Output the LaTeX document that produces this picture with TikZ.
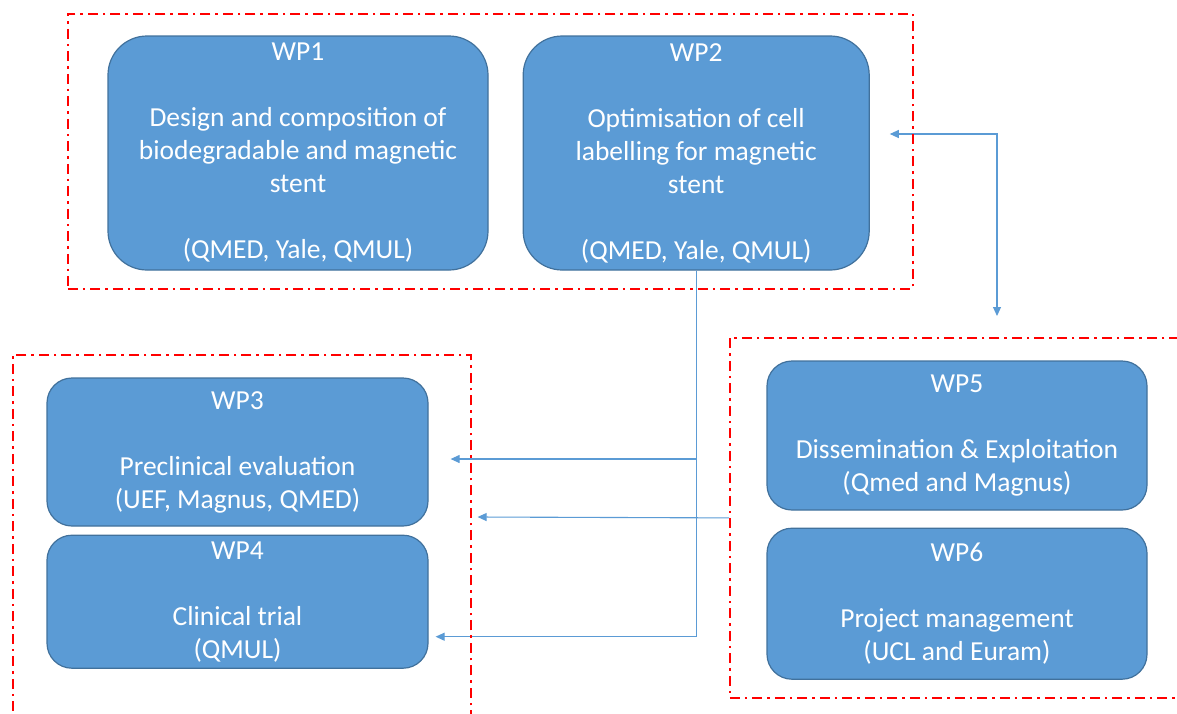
\documentclass[tikz,border=0pt]{standalone}
\usepackage{fontspec}
\setmainfont{Carlito}
\usetikzlibrary{arrows.meta,positioning,calc,backgrounds}
\definecolor{wpblue}{HTML}{5B9BD5}
\definecolor{wpedge}{HTML}{41719C}
\definecolor{framered}{HTML}{FF0000}

\begin{document}
\begin{tikzpicture}[x=1pt,y=-1pt,>={Triangle[length=9pt,width=8pt]},
        wp/.style={rectangle,rounded corners=#1,fill=wpblue,draw=wpedge,line width=1.2pt,
          text=white,align=center,inner sep=0pt,font=\fontsize{27.5}{33}\selectfont},
        wp/.default=25pt,
        group/.style={rectangle,draw=framered,line width=1.8pt,anchor=north west,inner sep=0pt,
          dash pattern=on 10pt off 5pt on 2.5pt off 5pt},
        link/.style={->,draw=wpblue,line width=1.1pt}]
        \useasboundingbox (0,0) rectangle (1177,713);
        % work packages
        \node[wp=39pt,minimum width=380pt,minimum height=234pt] (wp1) at (298,153)
          {WP1\\[33pt] Design and composition of\\ biodegradable and magnetic\\ stent\\[33pt] (QMED, Yale, QMUL)};
        \node[wp=39pt,minimum width=346pt,minimum height=234pt] (wp2) [right=34pt of wp1]
          {WP2\\[33pt] Optimisation of cell\\ labelling for magnetic\\ stent\\[33pt] (QMED, Yale, QMUL)};
        \node[wp,minimum width=381pt,minimum height=148pt] (wp3) at (237.5,452)
          {WP3\\[33pt] Preclinical evaluation\\ (UEF, Magnus, QMED)};
        \node[wp,minimum width=381pt,minimum height=133pt] (wp4) [below=8pt of wp3]
          {WP4\\[33pt] Clinical trial\\ (QMUL)};
        \node[wp,minimum width=380pt,minimum height=149pt] (wp5) at (957,435.5)
          {WP5\\[33pt] Dissemination \& Exploitation\\ (Qmed and Magnus)};
        \node[wp,minimum width=380pt,minimum height=151pt] (wp6) [below=17pt of wp5]
          {WP6\\[33pt] Project management\\ (UCL and Euram)};
        % groups
        \node[group,minimum width=845pt,minimum height=275pt] (grp1) at (67,13) {};
        \node[group,minimum width=458pt,minimum height=380pt] (grp2) at (12,354) {};
        \node[group,minimum width=461pt,minimum height=360pt] (grp3) at (729,337) {};
        \begin{pgfonlayer}{background}
          \draw[link] (wp2.south) |- ($(wp4.east)+(7,35)$);
          \draw[link] ($(wp2.south |- wp3.east)+(0,7)$) -- ($(wp3.east)+(22,7)$);
          \draw[link] (grp3.west) -- ($(wp3.east)+(49,65)$);
          \draw[link,<->] ($(wp2.east)+(20,-19)$) -| ($(grp3.north west)+(268,-21)$);
        \end{pgfonlayer}
      \end{tikzpicture}
\end{document}
